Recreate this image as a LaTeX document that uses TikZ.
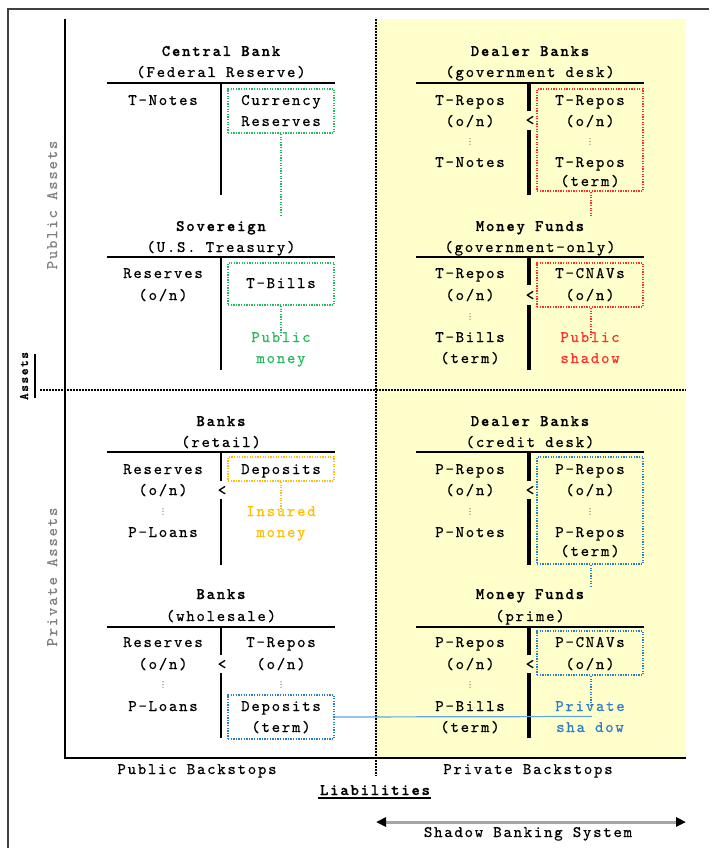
\documentclass[tikz,border=0pt]{standalone}
\usepackage{fontspec}
\newfontfamily\lmmono{lmmono10-regular}[Extension=.otf, LetterSpace=11, FakeBold=0.6, BoldFont=lmmonolt10-bold]
\newfontfamily\symfont{DejaVu Sans}
\usetikzlibrary{arrows.meta}
\definecolor{bgyellow}{RGB}{255,255,204}
\definecolor{cgreen}{RGB}{40,185,95}
\definecolor{cred}{RGB}{255,45,45}
\definecolor{corange}{RGB}{255,190,0}
\definecolor{cblue}{RGB}{45,125,205}
\definecolor{clblue}{RGB}{95,165,225}
\newcommand\monofont[1]{\lmmono\fontsize{#1}{#1}\selectfont}
\tikzset{
  txt/.style={inner sep=0pt, text height=10pt, text depth=0pt, font=\monofont{16}},
  ttl/.style={txt, font=\monofont{16}\bfseries},
  vd/.style={inner sep=0pt, text height=7pt, text depth=0pt, text=black!75, font=\symfont\fontsize{8}{8}\selectfont},
  tline/.style={line width=2pt},
  vthin/.style={line width=1.8pt},
  vthick/.style={line width=3.6pt},
  dbox/.style={draw, dash pattern=on 1.3pt off 1.3pt, line width=1.8pt, inner sep=0pt, minimum width=106pt},
  conn/.style={dash pattern=on 1.3pt off 1.3pt, line width=1.8pt},
}
\begin{document}
\begin{tikzpicture}[x=1pt, y=-1pt]
\useasboundingbox (0,0) rectangle (709,848);

% background of the shadow banking half
\fill[bgyellow] (376,19) rectangle (686,758);

% outer frame
\draw[line width=1.5pt, black!75] (8,848) -- (8,9) -- (709,9);

% axes
\draw[line width=1.3pt] (65,19) -- (65,758) -- (686,758);
\draw[line width=1.3pt, dash pattern=on 2pt off 1pt] (376,19) -- (376,776);
\draw[line width=2pt, dash pattern=on 2pt off 1pt] (40,390) -- (686,390);

% axis labels
\node[txt, rotate=90, text=black!50] (pubA) at (52,205) {Public Assets};
\node[txt, rotate=90, text=black!50] (priA) at (52,577) {Private Assets};
\node[inner sep=0pt, text height=8pt, text depth=0pt, rotate=90, font=\monofont{13}\bfseries] (assets) at (24,376) {Assets};
\draw[line width=1.5pt] (35,354) -- (35,398);
\node[txt] (pubB) at (197,769) {Public Backstops};
\node[txt] (priB) at (528,769) {Private Backstops};
\node[ttl] (liab) at (375,790) {Liabilities};
\draw[line width=1.5pt] (318,798) -- (431,798);
\coordinate (sbL) at (376,822);
\coordinate (sbR) at (686,822);
\draw[line width=3pt, black!35, {Triangle[length=10pt,width=9pt,black]}-{Triangle[length=10pt,width=9pt,black]}] (sbL) -- (sbR);
\node[txt] (sbs) at (528,832) {Shadow Banking System};

% ---------- Central Bank ----------
\node[ttl] (cbT) at (221,51) {Central Bank};
\node[txt] (cbS) at (221,72) {(Federal Reserve)};
\draw[tline] (107,83) -- (335,83);
\draw[vthin] (221,83) -- (221,195);
\node[txt] (cbA1) at (163,100) {T-Notes};
\node[dbox, draw=cgreen, minimum height=44pt] (cbBox) at (281,111) {};
\node[txt] (cbL1) at (281,100) {Currency};
\node[txt] (cbL2) at (281,121) {Reserves};
\coordinate (cbEnd) at (281,216);
\draw[conn, cgreen] (cbBox.south) -- (cbEnd);

% ---------- Sovereign ----------
\node[ttl] (svT) at (221,226) {Sovereign};
\node[txt] (svS) at (221,247) {(U.S. Treasury)};
\draw[tline] (107,257) -- (335,257);
\draw[vthin] (221,257) -- (221,370);
\node[txt] (svA1) at (163,273) {Reserves};
\node[txt] (svA2) at (163,295) {(o/n)};
\node[dbox, draw=cgreen, minimum height=42pt] (svBox) at (281,284) {};
\node[txt] (svL1) at (281,283) {T-Bills};
\node[txt, text=cgreen] (pm1) at (281,337) {Public};
\node[txt, text=cgreen] (pm2) at (281,358) {money};
\draw[conn, cgreen] (svBox.south) -- ([yshift=-5pt]pm1.north);

% ---------- Dealer Banks (government desk) ----------
\node[ttl] (dgT) at (530,51) {Dealer Banks};
\node[txt] (dgS) at (530,72) {(government desk)};
\draw[tline] (416,83) -- (644,83);
\draw[vthick] (529,83) -- (529,111);
\draw[vthick] (529,130) -- (529,195);
\node[txt] (dgLt) at (530,120) {<};
\node[txt] (dgA1) at (470,100) {T-Repos};
\node[txt] (dgA2) at (470,121) {(o/n)};
\node[vd] (dgA3) at (470,141) {⋮};
\node[txt] (dgA4) at (470,162) {T-Notes};
\node[dbox, draw=cred, minimum height=102pt] (dgBox) at (590,140) {};
\node[txt] (dgL1) at (590,100) {T-Repos};
\node[txt] (dgL2) at (590,121) {(o/n)};
\node[vd] (dgL3) at (590,141) {⋮};
\node[txt] (dgL4) at (590,162) {T-Repos};
\node[txt] (dgL5) at (590,181) {(term)};
\coordinate (dgEnd) at (591,216);
\draw[conn, cred] (dgBox.south -| dgEnd) -- (dgEnd);

% ---------- Money Funds (government-only) ----------
\node[ttl] (mgT) at (530,226) {Money Funds};
\node[txt] (mgS) at (530,247) {(government-only)};
\draw[tline] (416,257) -- (644,257);
\draw[vthick] (529,257) -- (529,285);
\draw[vthick] (529,305) -- (529,370);
\node[txt] (mgLt) at (530,295) {<};
\node[txt] (mgA1) at (470,273) {T-Repos};
\node[txt] (mgA2) at (470,295) {(o/n)};
\node[vd] (mgA3) at (470,316) {⋮};
\node[txt] (mgA4) at (470,337) {T-Bills};
\node[txt] (mgA5) at (470,358) {(term)};
\node[dbox, draw=cred, minimum height=44pt] (mgBox) at (590,285) {};
\node[txt] (mgL1) at (590,273) {T-CNAVs};
\node[txt] (mgL2) at (590,295) {(o/n)};
\node[txt, text=cred] (ps1) at (590,337) {Public};
\node[txt, text=cred] (ps2) at (590,358) {shadow};
\draw[conn, cred] (mgBox.south -| 591,0) -- ([yshift=-5pt]ps1.north -| 591,0);

% ---------- Banks (retail) ----------
\node[ttl] (brT) at (221,421) {Banks};
\node[txt] (brS) at (221,442) {(retail)};
\draw[tline] (107,452) -- (335,452);
\draw[vthin] (221,452) -- (221,481);
\draw[vthin] (221,499) -- (221,565);
\node[txt] (brLt) at (222,490) {<};
\node[txt] (brA1) at (163,469) {Reserves};
\node[txt] (brA2) at (163,490) {(o/n)};
\node[vd] (brA3) at (163,511) {⋮};
\node[txt] (brA4) at (163,532) {P-Loans};
\node[dbox, draw=corange, minimum height=24pt] (brBox) at (281,469) {};
\node[txt] (brL1) at (281,469) {Deposits};
\node[txt, text=corange] (im1) at (281,511) {Insured};
\node[txt, text=corange] (im2) at (281,532) {money};
\draw[conn, corange] (brBox.south) -- ([yshift=-5pt]im1.north);

% ---------- Banks (wholesale) ----------
\node[ttl] (bwT) at (221,594) {Banks};
\node[txt] (bwS) at (221,616) {(wholesale)};
\draw[tline] (107,627) -- (335,627);
\draw[vthin] (221,627) -- (221,655);
\draw[vthin] (221,673) -- (221,738);
\node[txt] (bwLt) at (222,664) {<};
\node[txt] (bwA1) at (163,642) {Reserves};
\node[txt] (bwA2) at (163,664) {(o/n)};
\node[vd] (bwA3) at (163,684) {⋮};
\node[txt] (bwA4) at (163,706) {P-Loans};
\node[txt] (bwL1) at (281,642) {T-Repos};
\node[txt] (bwL2) at (281,664) {(o/n)};
\node[vd] (bwL3) at (281,684) {⋮};
\node[dbox, draw=cblue, minimum height=44pt] (bwBox) at (281,717) {};
\node[txt] (bwL4) at (281,706) {Deposits};
\node[txt] (bwL5) at (281,727) {(term)};

% ---------- Dealer Banks (credit desk) ----------
\node[ttl] (dcT) at (530,421) {Dealer Banks};
\node[txt] (dcS) at (530,442) {(credit desk)};
\draw[tline] (416,452) -- (644,452);
\draw[vthick] (529,452) -- (529,481);
\draw[vthick] (529,499) -- (529,565);
\node[txt] (dcLt) at (530,490) {<};
\node[txt] (dcA1) at (470,469) {P-Repos};
\node[txt] (dcA2) at (470,490) {(o/n)};
\node[vd] (dcA3) at (470,511) {⋮};
\node[txt] (dcA4) at (470,532) {P-Notes};
\node[dbox, draw=cblue, minimum height=107pt] (dcBox) at (590,510.5) {};
\node[txt] (dcL1) at (590,469) {P-Repos};
\node[txt] (dcL2) at (590,490) {(o/n)};
\node[vd] (dcL3) at (590,511) {⋮};
\node[txt] (dcL4) at (590,532) {P-Repos};
\node[txt] (dcL5) at (590,551) {(term)};
\coordinate (dcEnd) at (591,586);
\draw[conn, cblue] (dcBox.south -| dcEnd) -- (dcEnd);

% ---------- Money Funds (prime) ----------
\node[ttl] (mpT) at (530,594) {Money Funds};
\node[txt] (mpS) at (530,616) {(prime)};
\draw[tline] (416,627) -- (644,627);
\draw[vthick] (529,627) -- (529,655);
\draw[vthick] (529,673) -- (529,738);
\node[txt] (mpLt) at (530,664) {<};
\node[txt] (mpA1) at (470,642) {P-Repos};
\node[txt] (mpA2) at (470,664) {(o/n)};
\node[vd] (mpA3) at (470,684) {⋮};
\node[txt] (mpA4) at (470,706) {P-Bills};
\node[txt] (mpA5) at (470,727) {(term)};
\node[dbox, draw=cblue, minimum height=44pt] (mpBox) at (590,653) {};
\node[txt] (mpL1) at (590,642) {P-CNAVs};
\node[txt] (mpL2) at (590,664) {(o/n)};
\node[txt, text=cblue] (pv1) at (590,706) {Private};
\node[txt, text=cblue] (pv2) at (590,727) {sha dow};
\draw[conn, cblue] (mpBox.south -| 591,0) -- ([yshift=-5pt]pv1.north -| 591,0);

% term deposits feed the private shadow money
\coordinate (pvEnd) at (592,716.5);
\draw[line width=1.2pt, clblue] (bwBox.east) -- (pvEnd);
\end{tikzpicture}
\end{document}
